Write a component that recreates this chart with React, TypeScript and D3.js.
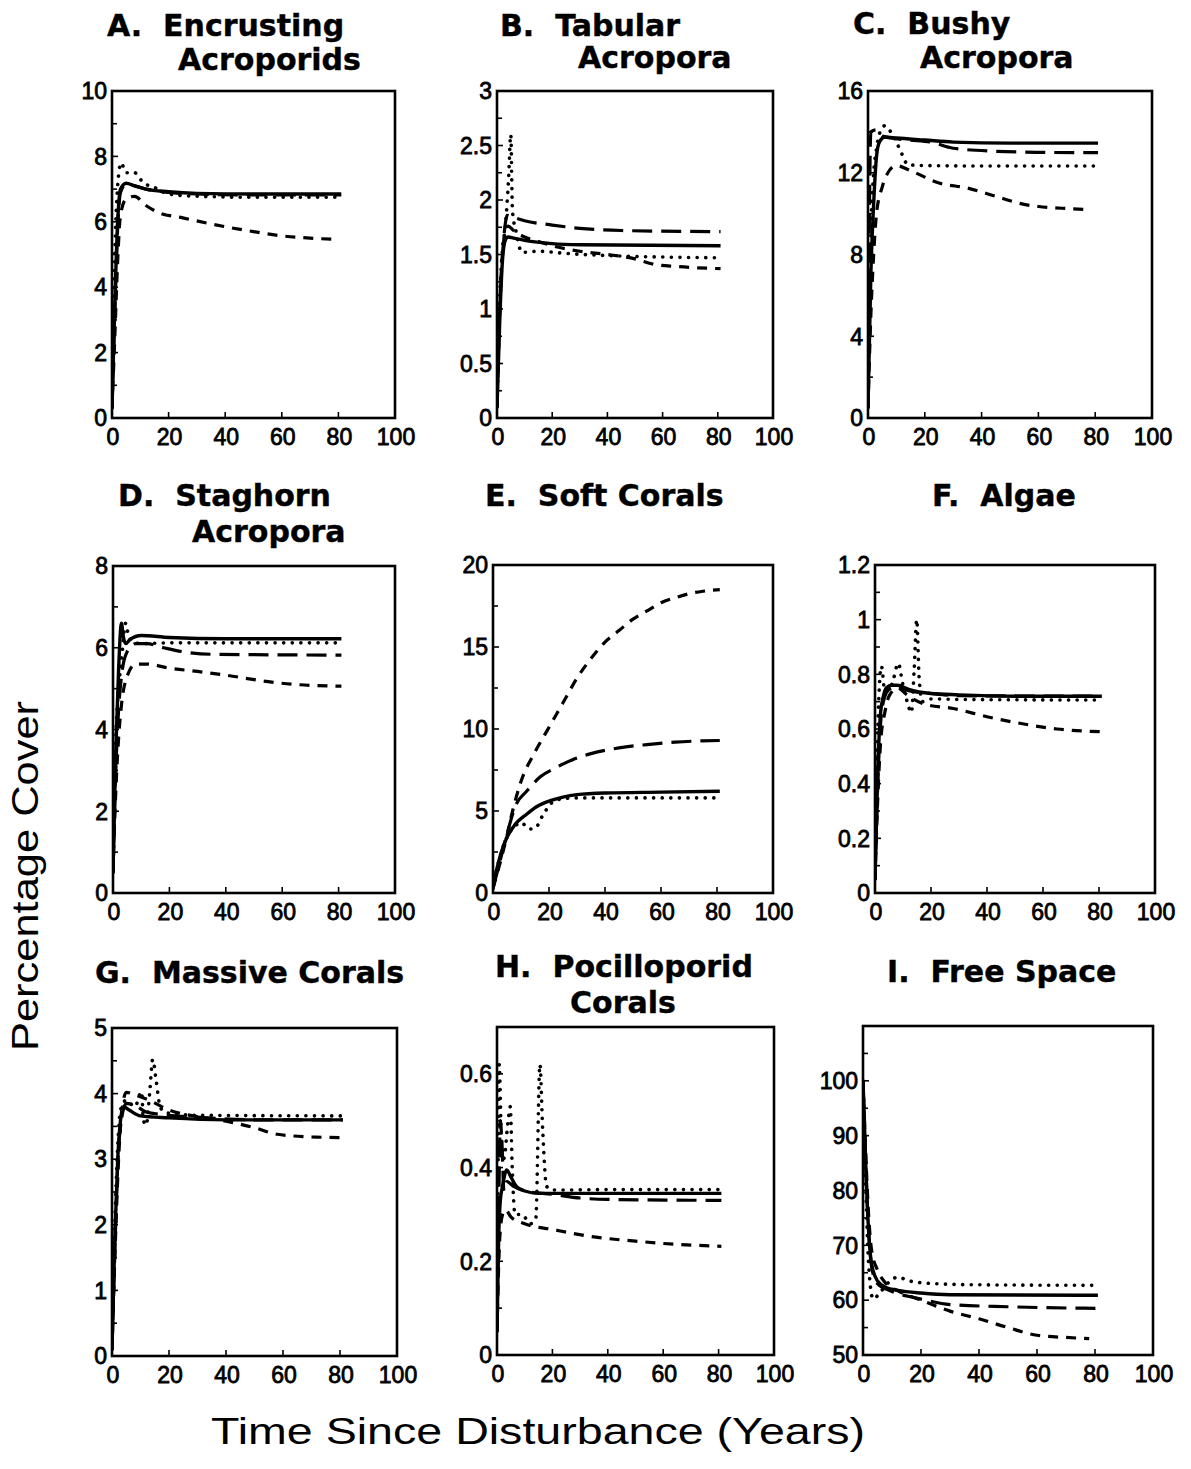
import React from "react";
import * as d3 from "d3";

// ---- data: [year, % cover] ----
const encrustingSolid = [[0,0.3],[1,3.5],[2,6.0],[3,7.0],[5,7.18],[8,7.1],[12,7.0],[20,6.92],[30,6.87],[50,6.85],[81,6.85]];
const encrustingLong = [[0,0.3],[1,3.2],[2,5.8],[3,6.9],[5,7.15],[8,7.1],[12,7.0],[20,6.9],[30,6.85],[50,6.82],[81,6.82]];
const encrustingShort = [[0,0.3],[1,2.5],[2,4.8],[3,6.2],[5,6.7],[8,6.78],[12,6.5],[16,6.3],[25,6.12],[40,5.85],[50,5.7],[60,5.57],[70,5.5],[80,5.46]];
const encrustingDot = [[0,0.3],[1,5.0],[2,7.1],[3.2,7.8],[5,7.5],[8,7.5],[11,7.2],[15,7.05],[20,6.85],[30,6.78],[50,6.75],[81,6.75]];

const tabularSolid = [[0,0.1],[1,0.9],[2,1.45],[3,1.63],[4,1.66],[6,1.65],[10,1.63],[20,1.6],[30,1.59],[81,1.58]];
const tabularLong = [[0,0.1],[1,1.0],[2,1.5],[3,1.78],[3.6,1.86],[6,1.84],[10,1.81],[20,1.77],[30,1.74],[45,1.72],[81,1.71]];
const tabularShort = [[0,0.1],[1,1.0],[2,1.5],[3,1.72],[4,1.76],[6,1.72],[10,1.66],[15,1.62],[20,1.58],[30,1.53],[40,1.5],[50,1.46],[57,1.41],[65,1.39],[81,1.37]];
const tabularDot = [[0,0.1],[1,1.1],[2,1.55],[3,1.75],[4.2,2.2],[5,2.6],[5.6,1.9],[7,1.7],[9,1.52],[15,1.53],[25,1.51],[40,1.49],[81,1.47]];

const bushySolid = [[0,0.5],[1,7],[2,10.5],[3,12.8],[4,13.5],[6,13.75],[10,13.7],[20,13.6],[30,13.5],[50,13.45],[81,13.45]];
const bushyLong = [[0,0.5],[0.5,10],[1,14.0],[3,14.1],[5,13.8],[8,13.7],[15,13.6],[22,13.5],[30,13.2],[45,13.05],[60,13.0],[81,12.98]];
const bushyShort = [[0,0.5],[1,5],[2,8],[3,10],[5,11.3],[7,12],[10,12.35],[15,12.1],[25,11.5],[35,11.25],[45,10.85],[55,10.45],[60,10.35],[70,10.25],[78,10.2]];
const bushyDot = [[0,0.5],[1,9],[2,12],[3,13.2],[4,13.9],[6,14.3],[8,14],[10,13.5],[12,12.9],[14,12.4],[20,12.35],[40,12.33],[81,12.33]];

const staghornSolid = [[0,0.5],[1,3.5],[2,5.5],[3,6.6],[3.6,6.3],[4.5,6.1],[6,6.2],[10,6.3],[20,6.25],[40,6.22],[81,6.22]];
const staghornLong = [[0,0.5],[1,3.0],[2,4.5],[3,5.3],[5,5.9],[8,6.1],[12,6.1],[18,6.0],[25,5.9],[35,5.84],[81,5.82]];
const staghornShort = [[0,0.5],[1,2.5],[2,3.8],[3,4.6],[5,5.3],[8,5.6],[12,5.6],[20,5.5],[30,5.42],[40,5.33],[55,5.17],[65,5.1],[81,5.06]];
const staghornDot = [[0,0.5],[1,3.8],[2,5.0],[3,5.7],[4.5,6.6],[5.5,6.3],[7,6.15],[10,6.1],[20,6.12],[81,6.12]];

const softSolid = [[0,0.3],[1,1.2],[2,1.9],[3,2.5],[5,3.4],[8,4.2],[12,4.8],[16,5.3],[20,5.6],[25,5.85],[30,6.0],[40,6.1],[60,6.15],[81,6.2]];
const softLong = [[0,0.3],[2,1.6],[5,3.6],[8,5.3],[12,6.2],[17,7.1],[22,7.6],[28,8.1],[35,8.5],[45,8.85],[55,9.05],[65,9.2],[81,9.3]];
const softShort = [[0,0.3],[2,1.5],[5,3.5],[7,5.0],[10,6.8],[15,8.6],[20,10.1],[25,11.6],[30,13.1],[35,14.3],[40,15.3],[45,16.0],[50,16.7],[55,17.2],[60,17.7],[65,18.0],[70,18.25],[75,18.4],[81,18.5]];
const softDot = [[0,0.3],[1,1.2],[2,1.9],[3,2.5],[5,3.4],[8,4.1],[10,4.3],[13,3.9],[15,3.95],[18,4.8],[21,5.5],[25,5.75],[30,5.8],[80,5.8]];

const algaeSolid = [[0,0.05],[1,0.45],[2,0.66],[3,0.72],[4,0.75],[6,0.76],[8,0.76],[12,0.745],[20,0.73],[30,0.725],[50,0.72],[81,0.72]];
const algaeLong = [[0,0.05],[1,0.4],[2,0.62],[3,0.7],[5,0.745],[8,0.755],[12,0.74],[20,0.73],[30,0.722],[81,0.72]];
const algaeShort = [[0,0.05],[1,0.35],[2,0.55],[3.5,0.66],[5,0.72],[8,0.75],[12,0.72],[18,0.69],[28,0.675],[40,0.645],[55,0.615],[65,0.6],[81,0.59]];
const algaeDot = [[0,0.05],[1,0.6],[2.3,0.83],[3.5,0.74],[5,0.74],[6.5,0.78],[8.3,0.84],[10,0.76],[11.5,0.7],[13,0.66],[14,0.82],[14.9,1.0],[15.8,0.78],[17,0.7],[20,0.71],[30,0.708],[79,0.706]];

const massiveSolid = [[0,0.1],[1,1.8],[2,3.0],[3,3.6],[4,3.8],[6,3.75],[10,3.66],[20,3.63],[40,3.6],[81,3.6]];
const massiveLong = [[0,0.1],[1,1.6],[2,2.9],[3,3.5],[5,3.85],[8,3.82],[12,3.72],[18,3.68],[30,3.64],[50,3.6],[81,3.6]];
const massiveShort = [[0,0.1],[1,1.5],[2,2.7],[3,3.5],[5,4.02],[8,3.98],[13,3.9],[20,3.75],[30,3.65],[40,3.58],[50,3.48],[58,3.38],[70,3.34],[80,3.33]];
const massiveDot = [[0,0.1],[1,2.0],[2,3.2],[3,3.75],[5,3.9],[8,3.8],[10.4,4.03],[11,3.6],[12,3.52],[13.2,4.0],[14.3,4.52],[15.5,4.2],[17,3.78],[20,3.7],[30,3.67],[81,3.66]];

const pociSolid = [[0,0.05],[0.6,0.25],[1.2,0.33],[2,0.36],[3.5,0.395],[5,0.38],[7,0.36],[10,0.35],[15,0.345],[30,0.345],[81,0.345]];
const pociLong = [[0,0.05],[0.6,0.3],[1.2,0.5],[1.8,0.45],[2.5,0.35],[3.5,0.37],[6,0.36],[10,0.35],[20,0.343],[30,0.335],[40,0.332],[81,0.33]];
const pociShort = [[0,0.05],[1,0.25],[2,0.3],[3,0.31],[5,0.295],[10,0.28],[20,0.268],[35,0.252],[50,0.243],[60,0.238],[81,0.232]];
const pociDot = [[0,0.05],[0.4,0.4],[0.8,0.62],[1.5,0.48],[2.5,0.42],[4,0.5],[4.8,0.53],[5.5,0.4],[6.5,0.3],[9,0.3],[12,0.28],[14,0.29],[15.5,0.62],[16.5,0.48],[17.9,0.36],[20,0.352],[40,0.353],[81,0.353]];

const freeSolid = [[0,100],[0.5,92],[1,84],[2,72],[3,66.5],[5,63.5],[8,62.3],[12,61.8],[20,61.3],[30,61],[81,60.9]];
const freeLong = [[0,100],[0.5,92],[1,84],[2,72],[3,66],[5,63],[8,62],[12,61.2],[20,60.2],[30,59.2],[50,58.8],[81,58.5]];
const freeShort = [[0,100],[0.5,93],[1,86],[2,75],[3,69],[5,65.5],[8,63],[12,61.7],[20,60],[30,58],[40,56.6],[50,55],[60,53.6],[70,53.2],[78,53]];
const freeDot = [[0,100],[0.5,90],[1,80],[2,66],[3.5,60.2],[6,61.5],[9,63.3],[12,64.2],[16,63.5],[25,63],[40,62.8],[81,62.7]];

const panelTitles = [
  ["A.  Encrusting", "Acroporids"],
  ["B.  Tabular", "Acropora"],
  ["C.  Bushy", "Acropora"],
  ["D.  Staghorn", "Acropora"],
  ["E.  Soft Corals"],
  ["F.  Algae"],
  ["G.  Massive Corals"],
  ["H.  Pocilloporid", "Corals"],
  ["I.  Free Space"],
];
const yDomains = [[0,10],[0,3],[0,16],[0,8],[0,20],[0,1.2],[0,5],[0,0.7],[50,110]];
const yTickLabels = [
  [0,2,4,6,8,10],
  [0,0.5,1,1.5,2,2.5,3],
  [0,4,8,12,16],
  [0,2,4,6,8],
  [0,5,10,15,20],
  [0,0.2,0.4,0.6,0.8,1,1.2],
  [0,1,2,3,4,5],
  [0,0.2,0.4,0.6],
  [50,60,70,80,90,100],
];
const yMinorTicks = [
  [1,3,5,7,9],
  [0.25,0.75,1.25,1.75,2.25,2.75],
  [2,6,10,14],
  [1,3,5,7],
  [2.5,7.5,12.5,17.5],
  [0.1,0.3,0.5,0.7,0.9,1.1],
  [0.5,1.5,2.5,3.5,4.5],
  [0.1,0.3,0.5],
  [55,65,75,85,95,105],
];
const xTickLabels = [0,20,40,60,80,100];
const seriesKeys = ["dotted", "shortDash", "longDash", "solid"];
const panelSeries = [
  [encrustingDot, encrustingShort, encrustingLong, encrustingSolid],
  [tabularDot, tabularShort, tabularLong, tabularSolid],
  [bushyDot, bushyShort, bushyLong, bushySolid],
  [staghornDot, staghornShort, staghornLong, staghornSolid],
  [softDot, softShort, softLong, softSolid],
  [algaeDot, algaeShort, algaeLong, algaeSolid],
  [massiveDot, massiveShort, massiveLong, massiveSolid],
  [pociDot, pociShort, pociLong, pociSolid],
  [freeDot, freeShort, freeLong, freeSolid],
];

// ---- layout ----
const boxes = [
  { l: 112, t: 91, r: 395, b: 418 },
  { l: 497, t: 91, r: 773, b: 418 },
  { l: 868, t: 91, r: 1152, b: 418 },
  { l: 113, t: 566, r: 395, b: 893 },
  { l: 493, t: 565, r: 773, b: 893 },
  { l: 875, t: 565, r: 1155, b: 893 },
  { l: 112, t: 1028, r: 397, b: 1356 },
  { l: 497, t: 1027, r: 774, b: 1355 },
  { l: 863, t: 1026, r: 1153, b: 1355 },
];
const titlePos = [
  [[107, 36], [178, 70]],
  [[500, 36], [578, 68]],
  [[853, 34], [920, 68]],
  [[118, 506], [192, 542]],
  [[485, 506]],
  [[932, 506]],
  [[95, 983]],
  [[495, 977], [570, 1013]],
  [[887, 982]],
];
const lineStyle: Record<string, any> = {
  solid: { width: 3.4, dash: null, cap: "butt" },
  longDash: { width: 3.2, dash: "20 9", cap: "butt" },
  shortDash: { width: 3.2, dash: "10 8", cap: "butt" },
  dotted: { width: 3.6, dash: "0.1 8.5", cap: "round" },
};
const tickFont = "'Liberation Sans', Arial, Helvetica, sans-serif";
const titleFont = "'DejaVu Sans', Verdana, sans-serif";

const fmt = (v: number) => String(+v.toFixed(2));

function Panel({ i }: { i: number }) {
  const b = boxes[i];
  const x = d3.scaleLinear().domain([0, 100]).range([b.l, b.r]);
  const y = d3.scaleLinear().domain(yDomains[i]).range([b.b, b.t]);
  const line = d3
    .line<number[]>()
    .x((d) => x(d[0]))
    .y((d) => y(d[1]))
    .curve(d3.curveMonotoneX);
  const clipId = `clip-${i}`;
  return (
    <g>
      <clipPath id={clipId}>
        <rect x={b.l} y={b.t} width={b.r - b.l} height={b.b - b.t} />
      </clipPath>
      {panelTitles[i].map((s, k) => (
        <text
          key={k}
          x={titlePos[i][k][0]}
          y={titlePos[i][k][1]}
          fontFamily={titleFont}
          fontWeight="bold"
          fontSize={30}
          stroke="#000"
          strokeWidth={0.4}
          style={{ whiteSpace: "pre" }}
        >
          {s}
        </text>
      ))}
      <g clipPath={`url(#${clipId})`}>
        {panelSeries[i].map((data, k) => {
          const st = lineStyle[seriesKeys[k]];
          return (
            <path
              key={k}
              d={line(data) || ""}
              fill="none"
              stroke="#000"
              strokeWidth={st.width}
              strokeDasharray={st.dash || undefined}
              strokeLinecap={st.cap}
              strokeLinejoin="round"
            />
          );
        })}
      </g>
      {yTickLabels[i].map((v) => (
        <g key={"y" + v}>
          <line x1={b.l} x2={b.l + 6} y1={y(v)} y2={y(v)} stroke="#000" strokeWidth={1.6} />
          <text
            x={b.l - 5}
            y={y(v)}
            dy="0.36em"
            textAnchor="end"
            fontFamily={tickFont}
            fontSize={23}
            stroke="#000"
            strokeWidth={0.8}
          >
            {fmt(v)}
          </text>
        </g>
      ))}
      {yMinorTicks[i].map((v) => (
        <line key={"m" + v} x1={b.l} x2={b.l + 5} y1={y(v)} y2={y(v)} stroke="#000" strokeWidth={1.6} />
      ))}
      {xTickLabels.map((v) => (
        <g key={"x" + v}>
          <line x1={x(v)} x2={x(v)} y1={b.b} y2={b.b - 6} stroke="#000" strokeWidth={1.6} />
          <text
            x={x(v) + 1}
            y={b.b + 27}
            textAnchor="middle"
            fontFamily={tickFont}
            fontSize={23}
            stroke="#000"
            strokeWidth={0.8}
          >
            {v}
          </text>
        </g>
      ))}
      <rect
        x={b.l}
        y={b.t}
        width={b.r - b.l}
        height={b.b - b.t}
        fill="none"
        stroke="#000"
        strokeWidth={2.6}
      />
    </g>
  );
}

export default function App() {
  return (
    <svg
      width={1191}
      height={1469}
      style={{ position: "absolute", left: 0, top: 0, background: "#fff" }}
    >
      <rect x={0} y={0} width={1191} height={1469} fill="#fff" />
      {panelTitles.map((_, i) => (
        <Panel key={i} i={i} />
      ))}
      <text
        transform="translate(38,876) rotate(-90)"
        textAnchor="middle"
        fontFamily={tickFont}
        fontSize={36}
        textLength={350}
        lengthAdjust="spacingAndGlyphs"
      >
        Percentage Cover
      </text>
      <text
        x={538}
        y={1444}
        textAnchor="middle"
        fontFamily={tickFont}
        fontSize={37}
        textLength={654}
        lengthAdjust="spacingAndGlyphs"
      >
        Time Since Disturbance (Years)
      </text>
    </svg>
  );
}
